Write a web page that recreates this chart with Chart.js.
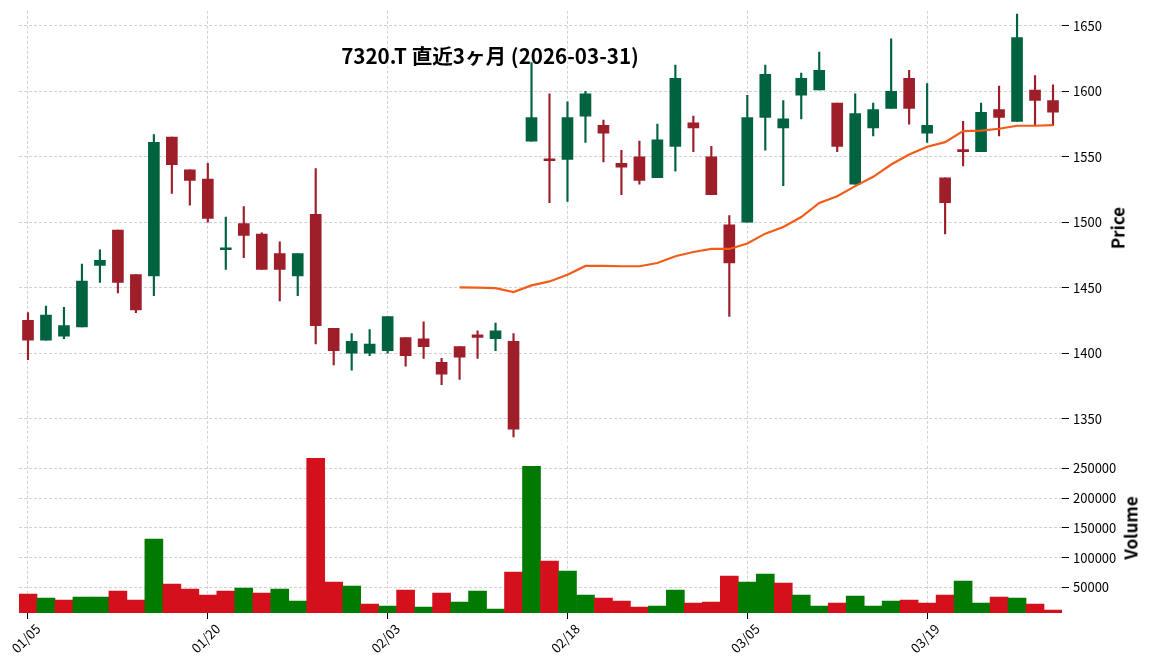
<!DOCTYPE html>
<html lang="ja">
<head>
<meta charset="utf-8">
<title>7320.T 直近3ヶ月</title>
<script src="https://cdn.jsdelivr.net/npm/chart.js@4.4.1/dist/chart.umd.min.js"></script>
<style>
    html, body { margin: 0; padding: 0; background: #fff; }
    #wrap { position: relative; width: 1152px; height: 670px; overflow: hidden;
            font-family: "Noto Sans CJK JP", "Noto Sans", sans-serif; color: #000; }
    /* o Chart.js reserva ~10-12px acima/abaixo por causa dos rótulos do eixo y */
    #priceChart { position: absolute; left: 0; top: -1px; }
    #volumeChart { position: absolute; left: 0; top: 434px; }
    .chart-title { position: absolute; left: 490px; top: 55px; transform: translate(-50%, -50%);
                   font-size: 20.6px; font-weight: bold; white-space: pre; z-index: 2; }
    .axis-label { position: absolute; font-size: 17px; font-weight: bold; white-space: pre;
                  transform: translate(-50%, -50%) rotate(-90deg); }
</style>
</head>
<body>
<div id="wrap">
    <canvas id="priceChart" width="1152" height="455"></canvas>
    <canvas id="volumeChart" width="1152" height="236"></canvas>
    <div class="chart-title">7320.T 直近3ヶ月 (2026-03-31)</div>
    <div class="axis-label" style="left:1117px; top:228px;">Price</div>
    <div class="axis-label" style="left:1130px; top:528px;">Volume</div>
</div>

<script>
// ---- dados ----
const dates = [
    '01/05', '01/06', '01/07', '01/08', '01/09', '01/13', '01/14', '01/15', '01/16', '01/19',
    '01/20', '01/21', '01/22', '01/23', '01/26', '01/27', '01/28', '01/29', '01/30', '02/02',
    '02/03', '02/04', '02/05', '02/06', '02/09', '02/10', '02/12', '02/13', '02/16', '02/17',
    '02/18', '02/19', '02/20', '02/24', '02/25', '02/26', '02/27', '03/02', '03/03', '03/04',
    '03/05', '03/06', '03/09', '03/10', '03/11', '03/12', '03/13', '03/16', '03/17', '03/18',
    '03/19', '03/23', '03/24', '03/25', '03/26', '03/27', '03/30', '03/31'
];

const opens = [
    1425, 1410, 1413, 1420, 1467, 1494, 1460, 1459, 1565, 1540,
    1533, 1479, 1499, 1491, 1476, 1459, 1506, 1419, 1400, 1400,
    1402, 1412, 1411, 1393, 1405, 1414, 1411, 1409, 1562, 1548,
    1548, 1581, 1574, 1545, 1550, 1534, 1558, 1576, 1550, 1498,
    1500, 1580, 1572, 1597, 1601, 1591, 1529, 1572, 1587, 1610,
    1568, 1534, 1555, 1554, 1586, 1577, 1601, 1593
];
const highs = [
    1431, 1436, 1435, 1468, 1479, 1494, 1460, 1567, 1565, 1540,
    1545, 1504, 1512, 1492, 1485, 1476, 1541, 1419, 1415, 1418,
    1428, 1412, 1424, 1396, 1405, 1417, 1423, 1415, 1622, 1598,
    1592, 1600, 1578, 1555, 1562, 1575, 1620, 1581, 1558, 1505,
    1597, 1620, 1593, 1614, 1630, 1591, 1598, 1591, 1640, 1616,
    1606, 1534, 1577, 1591, 1604, 1659, 1612, 1605
];
const lows = [
    1395, 1410, 1411, 1420, 1454, 1446, 1431, 1444, 1522, 1513,
    1500, 1464, 1473, 1464, 1440, 1444, 1407, 1391, 1387, 1398,
    1400, 1390, 1396, 1376, 1380, 1396, 1402, 1336, 1562, 1515,
    1516, 1561, 1546, 1521, 1529, 1534, 1539, 1554, 1521, 1428,
    1500, 1555, 1528, 1579, 1601, 1554, 1529, 1566, 1587, 1575,
    1561, 1491, 1543, 1554, 1566, 1577, 1574, 1574
];
const closes = [
    1410, 1429, 1421, 1455, 1471, 1454, 1433, 1561, 1544, 1532,
    1503, 1480, 1490, 1464, 1464, 1476, 1421, 1402, 1409, 1407,
    1428, 1398, 1405, 1384, 1397, 1412, 1417, 1342, 1580, 1547,
    1580, 1598, 1568, 1542, 1532, 1563, 1610, 1572, 1521, 1469,
    1580, 1613, 1579, 1610, 1616, 1558, 1583, 1586, 1600, 1587,
    1574, 1515, 1554, 1584, 1580, 1641, 1593, 1584
];
const volumes = [
    38700, 31900, 28600, 33600, 33600, 43700, 28600, 131100, 55500, 47100,
    37000, 43700, 48700, 40300, 47100, 26900, 267200, 58800, 52100, 21900,
    18500, 45400, 16800, 40300, 25200, 43700, 13400, 75600, 253800, 94100,
    77300, 37000, 31900, 26900, 16800, 18500, 45400, 23500, 25200, 68900,
    58800, 72300, 57100, 37000, 18500, 23500, 35300, 18500, 26900, 28600,
    23500, 37000, 60500, 23500, 33600, 31900, 21900, 11800
];
const ma25 = [
    null, null, null, null, null, null, null, null, null, null,
    null, null, null, null, null, null, null, null, null, null,
    null, null, null, null, 1450.3, 1450.0, 1449.7, 1446.7, 1451.8, 1454.8,
    1459.9, 1466.6, 1466.6, 1466.4, 1466.4, 1468.9, 1474.0, 1477.3, 1479.6, 1479.6,
    1483.7, 1491.3, 1496.4, 1504.0, 1514.8, 1519.9, 1527.6, 1534.7, 1544.1, 1551.8,
    1557.7, 1561.2, 1569.6, 1570.0, 1571.4, 1573.7, 1573.7, 1574.2
];

const priceTicks = [1350, 1400, 1450, 1500, 1550, 1600, 1650];
const volumeTicks = [50000, 100000, 150000, 200000, 250000];

// ---- estilo ----
const UP_CANDLE = '#006340';
const DOWN_CANDLE = '#9e1f2a';
const UP_VOL = '#007a00';
const DOWN_VOL = '#d3101c';
const MA_COLOR = '#f25c19';
const GRID = '#c6c6c6';
const AXIS_W = 90;

Chart.defaults.font.family = "'Noto Sans CJK JP', 'Noto Sans', sans-serif";
Chart.defaults.color = '#000';

const candleColors = closes.map((c, i) => c >= opens[i] ? UP_CANDLE : DOWN_CANDLE);
// volume: compara com o fechamento anterior
const volumeColors = closes.map((c, i) => {
    const prev = i > 0 ? closes[i - 1] : opens[i];
    return c >= prev ? UP_VOL : DOWN_VOL;
});

const everyTenth = axis => { axis.ticks = axis.ticks.filter(t => t.value % 10 === 0); };

function yAxis(min, max, ticks) {
    return {
        position: 'right',
        min: min,
        max: max,
        afterBuildTicks: axis => { axis.ticks = ticks.map(v => ({ value: v })); },
        afterFit: axis => { axis.width = AXIS_W; },
        grid: { color: GRID, lineWidth: 0.8, drawTicks: true, tickLength: 7,
                tickColor: '#000', tickWidth: 1, tickBorderDash: [] },
        border: { display: false, dash: [3, 2] },
        ticks: { font: { size: 13 }, color: '#000', padding: 4, callback: v => String(v) }
    };
}

// 1. Preço (velas + MA)
new Chart(document.getElementById('priceChart'), {
    type: 'bar',
    data: {
        labels: dates,
        datasets: [
            {
                type: 'line',
                data: ma25,
                borderColor: MA_COLOR,
                borderWidth: 2.2,
                pointRadius: 0,
                tension: 0
            },
            {
                data: opens.map((o, i) => [o, closes[i]]),
                backgroundColor: candleColors,
                barThickness: 11,
                minBarLength: 2,
                grouped: false
            },
            {
                data: lows.map((l, i) => [l, highs[i]]),
                backgroundColor: candleColors,
                barThickness: 1.5,
                grouped: false
            }
        ]
    },
    options: {
        responsive: false,
        animation: false,
        layout: { padding: { left: 19, top: 0, right: 0, bottom: 0 } },
        plugins: { legend: { display: false }, tooltip: { enabled: false } },
        scales: {
            x: {
                offset: true,
                afterBuildTicks: everyTenth,
                afterFit: axis => { axis.height = 0; },
                grid: { offset: false, color: GRID, lineWidth: 0.8, drawTicks: false },
                border: { display: false, dash: [3, 2] },
                ticks: { display: false, autoSkip: false }
            },
            y: yAxis(1332, 1661.5, priceTicks)
        }
    }
});

// 2. Volume
new Chart(document.getElementById('volumeChart'), {
    type: 'bar',
    data: {
        labels: dates,
        datasets: [{
            data: volumes,
            backgroundColor: volumeColors,
            barPercentage: 1,
            categoryPercentage: 1,
            borderWidth: 0
        }]
    },
    options: {
        responsive: false,
        animation: false,
        layout: { padding: { left: 19, top: 0, right: 0, bottom: 0 } },
        plugins: { legend: { display: false }, tooltip: { enabled: false } },
        scales: {
            x: {
                offset: true,
                afterBuildTicks: everyTenth,
                afterFit: axis => { axis.height = 57; },
                grid: { offset: false, color: GRID, lineWidth: 0.8, drawTicks: true, tickLength: 6,
                        tickColor: '#000', tickWidth: 1, tickBorderDash: [] },
                border: { display: false, dash: [3, 2] },
                ticks: { autoSkip: false, minRotation: 45, maxRotation: 45, labelOffset: 10,
                         padding: 2, font: { size: 13 }, color: '#000' }
            },
            y: yAxis(6700, 288300, volumeTicks)
        }
    }
});
</script>
</body>
</html>
